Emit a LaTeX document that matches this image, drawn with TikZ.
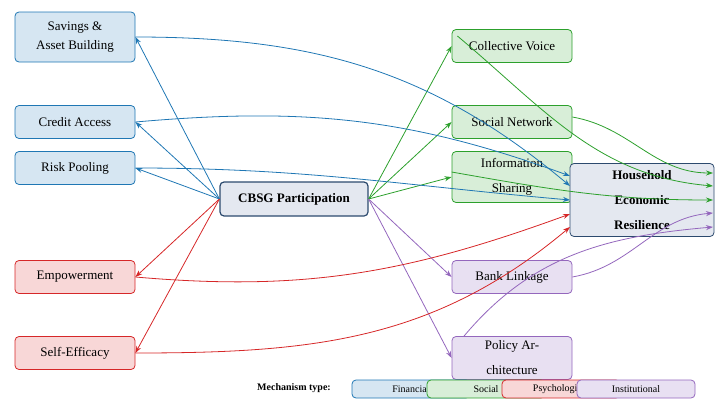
\documentclass[tikz,border=0pt]{standalone}
\usepackage{fontspec}
\setmainfont{Liberation Serif}
\usetikzlibrary{arrows.meta}
\definecolor{cb}{RGB}{31,119,180}\definecolor{cbf}{RGB}{214,230,242}
\definecolor{cg}{RGB}{44,160,44}\definecolor{cgf}{RGB}{216,238,216}
\definecolor{cr}{RGB}{214,39,40}\definecolor{crf}{RGB}{248,215,215}
\definecolor{cp}{RGB}{148,103,189}\definecolor{cpf}{RGB}{232,224,242}
\definecolor{co}{RGB}{44,74,110}\definecolor{cof}{RGB}{228,232,240}
\begin{document}
\begin{tikzpicture}[x=1pt,y=-1pt,
 box/.style={draw,rounded corners=4pt,line width=0.8pt,minimum width=120pt,minimum height=33pt,align=center,font=\fontsize{13}{25}\selectfont,inner sep=1pt},
 fin/.style={box,draw=cb,fill=cbf}, soc/.style={box,draw=cg,fill=cgf},
 psy/.style={box,draw=cr,fill=crf}, ins/.style={box,draw=cp,fill=cpf},
 leg/.style={draw,rounded corners=4pt,line width=0.8pt,minimum width=118pt,minimum height=18pt,font=\fontsize{10}{12}\selectfont,inner sep=1pt},
 a/.style={-{Stealth[length=7pt,width=5pt]},line width=0.8pt}]
\useasboundingbox (0,0) rectangle (724,407);
\node[fin,minimum height=50pt,font=\fontsize{13}{19}\selectfont] (sav) at (75,37) {Savings \&\\Asset Building};
\node[fin] (cre) at (75,122) {Credit Access};
\node[fin] (ris) at (75,168) {Risk Pooling};
\node[psy] (emp) at (75,277) {Empowerment};
\node[psy] (sel) at (75,353) {Self-Efficacy};
\node[soc] (col) at (512,46) {Collective Voice};
\node[soc] (net) at (512,122) {Social Network};
\node[soc,minimum height=51pt] (inf) at (512,177) {Information\\Sharing};
\node[ins] (ban) at (512,277) {Bank Linkage};
\node[ins,minimum height=43pt] (pol) at (512,358) {Policy Ar-\\chitecture};
\node[box,draw=co,fill=cof,minimum width=144pt,minimum height=73pt,font=\bfseries\fontsize{13}{25}\selectfont] (out) at (642,200) {Household\\Economic\\Resilience};
\node[box,draw=co,fill=cof,minimum width=148pt,minimum height=34pt,line width=1.2pt,font=\bfseries\fontsize{13}{16}\selectfont] (cb) at (294,199) {CBSG Participation};
% CBSG to mechanisms
\draw[a,cb] (cb.west) -- (sav.east);
\draw[a,cb] (cb.west) -- (cre.east);
\draw[a,cb] (cb.west) -- (ris.east);
\draw[a,cr] (cb.west) -- (emp.east);
\draw[a,cr] (cb.west) -- (sel.east);
\draw[a,cg] (cb.east) -- (col.west);
\draw[a,cg] (cb.east) -- (net.west);
\draw[a,cg] (cb.east) -- (inf.west);
\draw[a,cp] (cb.east) -- (ban.west);
\draw[a,cp] (cb.east) -- (pol.west);
% mechanisms to outcome
\coordinate (o1) at (570,176);\coordinate (o2) at (570,186);\coordinate (o3) at (570,200);
\coordinate (o4) at (570,214);\coordinate (o5) at (570,227);
\coordinate (e1) at (713,173);\coordinate (e2) at (713,186);\coordinate (e3) at (713,200);
\coordinate (e4) at (713,213);\coordinate (e5) at (713,227);
\draw[a,cb] (sav.east) to[out=0,in=140] (o2);
\draw[a,cb] (cre.east) to[out=5,in=160] (o1);
\draw[a,cb] (ris.east) to[out=0,in=175] (o3);
\draw[a,cr] (emp.east) to[out=-5,in=200] (o4);
\draw[a,cr] (sel.east) to[out=0,in=220] (o5);
\draw[a,cg] (col.east) ++(-115,-10) to[out=-40,in=175] (e2);
\draw[a,cg] (net.east) ++(0,-5) to[out=-10,in=180] (e1);
\draw[a,cg] (inf.west) ++(0,-5) to[out=-10,in=180] (e3);
\draw[a,cp] (ban.east) to[out=10,in=185] (e4);
\draw[a,cp] (pol.north) ++(-48,0) to[out=50,in=185] (e5);
% legend
\node[font=\bfseries\fontsize{10}{12}\selectfont] (lt) at (294,388) {Mechanism type:};
\node[leg,draw=cb,fill=cbf] (l1) at (411,389) {Financial};
\node[leg,draw=cg,fill=cgf] (l2) at (486,389) {Social};
\node[leg,draw=cr,fill=crf] (l3) at (561,389) {Psychological};
\node[leg,draw=cp,fill=cpf] (l4) at (636,389) {Institutional};
\end{tikzpicture}
\end{document}
